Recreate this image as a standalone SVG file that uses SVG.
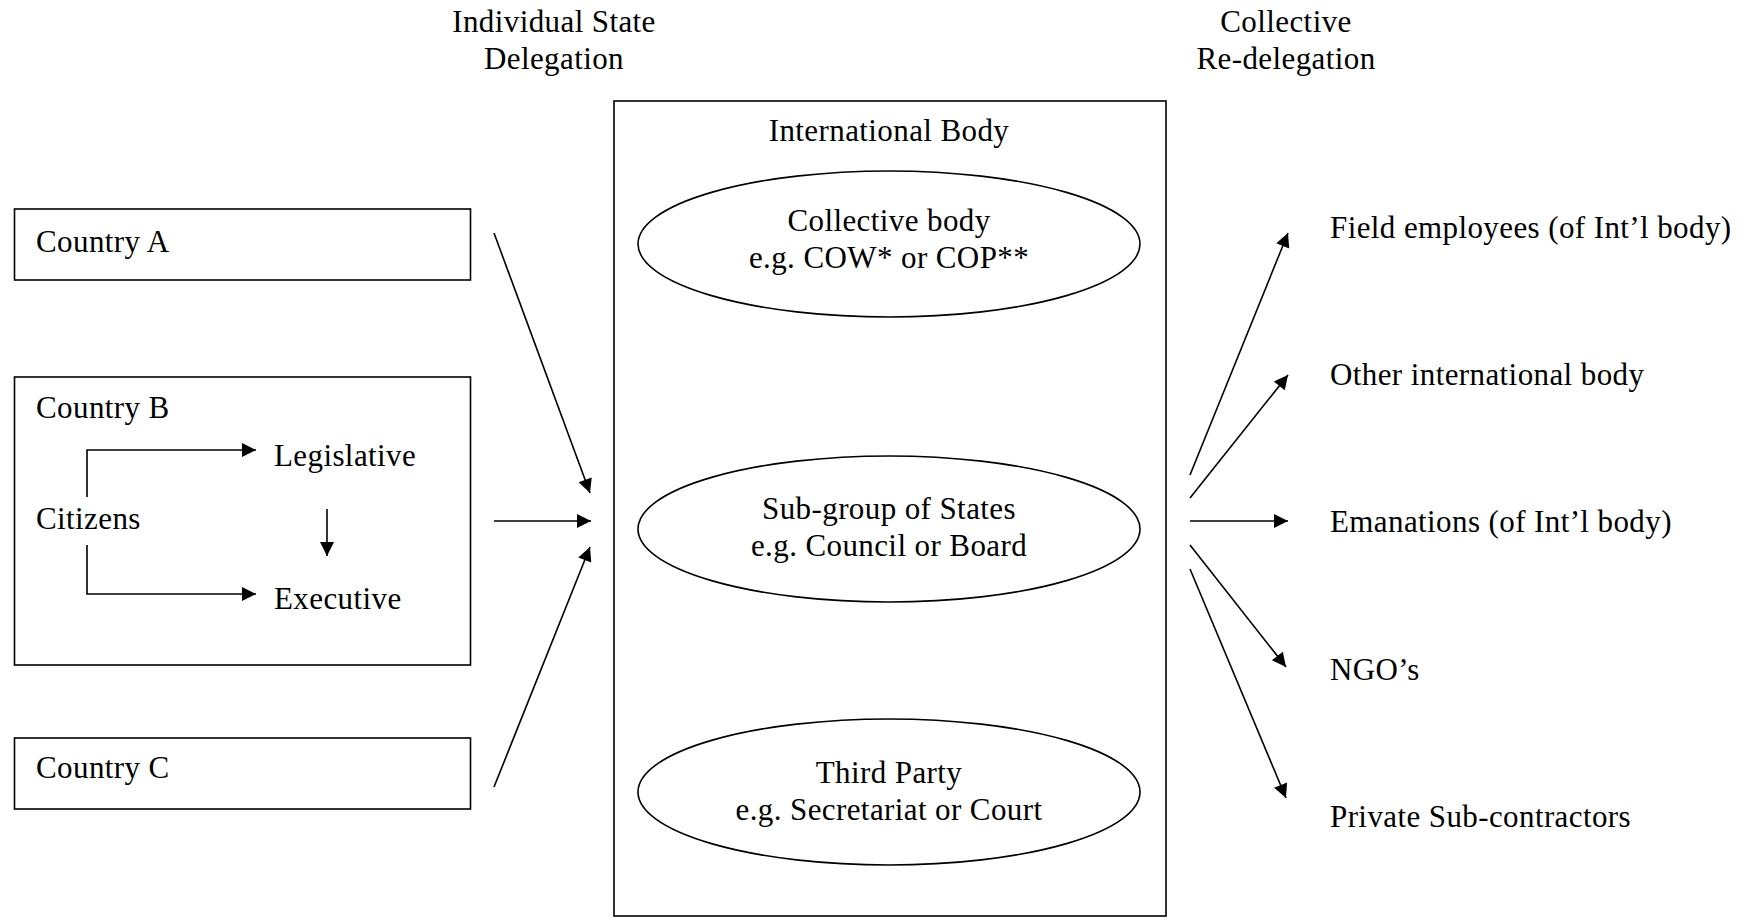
<svg xmlns="http://www.w3.org/2000/svg" width="1756" height="918" viewBox="0 0 1756 918">
<style>
text{font-family:"Liberation Serif","Times New Roman",serif;font-size:31px;letter-spacing:0.4px;fill:#000}
.c{text-anchor:middle}
.box{fill:#fff;stroke:#000;stroke-width:1.6}
.ell{fill:#fff;stroke:#000;stroke-width:1.6}
.ln{fill:none;stroke:#000;stroke-width:1.6}
</style>
<defs>
<marker id="ah" viewBox="0 0 10 10" refX="10" refY="5" markerWidth="17" markerHeight="14" markerUnits="userSpaceOnUse" orient="auto">
<path d="M0,0 L10,5 L0,10 z" fill="#000"/>
</marker>
</defs>
<rect width="1756" height="918" fill="#fff"/>
<g id="header-left"><text class="c" x="554" y="32">Individual State</text><text class="c" x="554" y="69">Delegation</text></g>
<g id="header-right"><text class="c" x="1286" y="32">Collective</text><text class="c" x="1286" y="69">Re-delegation</text></g>
<g id="international-body">
<rect class="box" x="614" y="101" width="552" height="815"/>
<text class="c" x="889" y="141">International Body</text>
</g>
<g id="collective-body"><ellipse class="ell" cx="889" cy="244" rx="251" ry="73"/><text class="c" x="889" y="231">Collective body</text><text class="c" x="889" y="268">e.g. COW* or COP**</text></g>
<g id="sub-group"><ellipse class="ell" cx="889" cy="529" rx="251" ry="73"/><text class="c" x="889" y="519">Sub-group of States</text><text class="c" x="889" y="556">e.g. Council or Board</text></g>
<g id="third-party"><ellipse class="ell" cx="889" cy="792" rx="251" ry="73"/><text class="c" x="889" y="783">Third Party</text><text class="c" x="889" y="820">e.g. Secretariat or Court</text></g>
<g id="country-a"><rect class="box" x="14.5" y="209" width="456" height="71"/><text x="36" y="252">Country A</text></g>
<g id="country-b"><rect class="box" x="14.5" y="377" width="456" height="288"/><text x="36" y="418">Country B</text>
<g id="citizens"><text x="36" y="529">Citizens</text></g>
<g id="legislative"><text x="274" y="466">Legislative</text></g>
<g id="executive"><text x="274" y="609">Executive</text></g>
</g>
<g id="country-c"><rect class="box" x="14.5" y="738" width="456" height="71"/><text x="36" y="778">Country C</text></g>
<g id="field"><text x="1330" y="238">Field employees (of Int’l body)</text></g>
<g id="other"><text x="1330" y="385">Other international body</text></g>
<g id="emanations"><text x="1330" y="532">Emanations (of Int’l body)</text></g>
<g id="ngo"><text x="1330" y="680">NGO’s</text></g>
<g id="private"><text x="1330" y="827">Private Sub-contractors</text></g>
<g id="connectors">
<polyline class="ln" points="87,497 87,450 256,450" marker-end="url(#ah)"/>
<polyline class="ln" points="87,545 87,594 256,594" marker-end="url(#ah)"/>
<line class="ln" x1="327" y1="509" x2="327" y2="556" marker-end="url(#ah)"/>
<line class="ln" x1="494" y1="233" x2="590" y2="493" marker-end="url(#ah)"/>
<line class="ln" x1="494" y1="521" x2="591" y2="521" marker-end="url(#ah)"/>
<line class="ln" x1="494" y1="787" x2="590" y2="547" marker-end="url(#ah)"/>
<line class="ln" x1="1190" y1="475" x2="1288" y2="233" marker-end="url(#ah)"/>
<line class="ln" x1="1190" y1="498" x2="1288" y2="375" marker-end="url(#ah)"/>
<line class="ln" x1="1190" y1="521" x2="1288" y2="521" marker-end="url(#ah)"/>
<line class="ln" x1="1190" y1="545" x2="1286" y2="667" marker-end="url(#ah)"/>
<line class="ln" x1="1190" y1="569" x2="1286" y2="798" marker-end="url(#ah)"/>
</g>
</svg>
